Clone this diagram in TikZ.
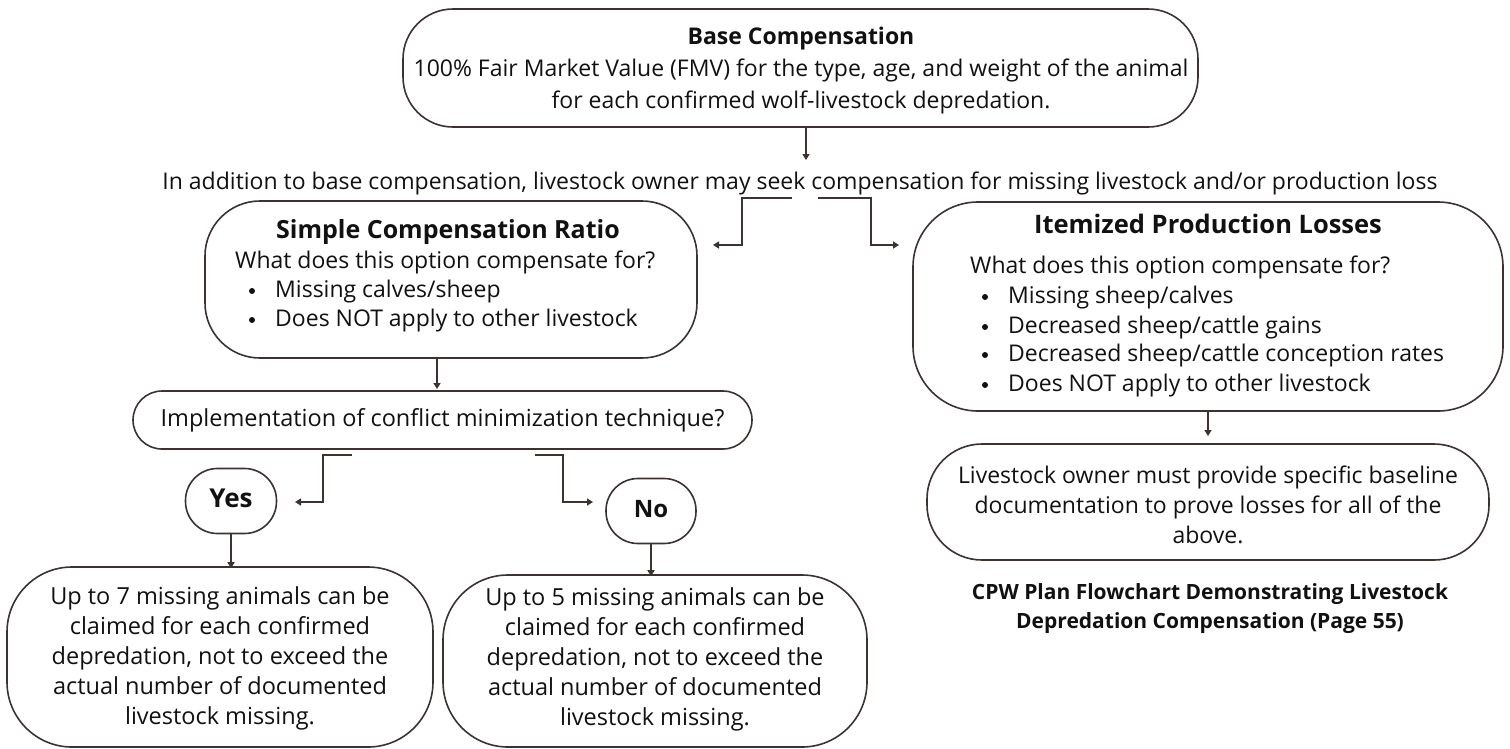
\documentclass[tikz,border=0pt]{standalone}
\usepackage{fontspec}
\setmainfont{Open Sans}
\usetikzlibrary{arrows.meta}
\definecolor{lc}{HTML}{3B3330}
\definecolor{tc}{HTML}{111111}
\begin{document}
\begin{tikzpicture}[x=1pt,y=-1pt,
  box/.style={draw=lc, line width=1.6pt, rounded corners=#1, inner sep=0pt},
  arr/.style={draw=lc, line width=1.6pt, -{Triangle[length=6pt,width=7pt]}},
  txt/.style={text=tc, inner sep=0pt, anchor=mid, yshift=-4pt, font=\fontsize{23}{28}\selectfont},
  ltxt/.style={txt, anchor=mid west},
  dot/.style={circle, fill=tc, inner sep=0pt, minimum size=6pt},
  ttl/.style={txt, font=\bfseries\fontsize{25}{30}\selectfont},
]
\useasboundingbox[fill=white] (0,0) rectangle (1510,748);

% Base compensation
\node[box=50pt, minimum width=795pt, minimum height=118pt] (base) at (800.5,68) {};
\node[ttl, font=\bfseries\fontsize{23}{28}\selectfont] (bt) at (801,38) {Base Compensation};
\node[txt] (b1) at (801,70) {100\% Fair Market Value (FMV) for the type, age, and weight of the animal};
\node[txt] (b2) at (801,102) {for each confirmed wolf-livestock depredation.};

\coordinate (a0) at (806,160);
\draw[arr] (base.south -| a0) -- (a0);

\node[txt] (addl) at (800,182.5) {In addition to base compensation, livestock owner may seek compensation for missing livestock and/or production loss};

% split connectors
\coordinate (sl0) at (792,198);
\coordinate (sl1) at (742,198);
\coordinate (sl2) at (742,245);
\coordinate (sl3) at (713,245);
\coordinate (sr0) at (818,198);
\coordinate (sr1) at (871,198);
\coordinate (sr2) at (871,245);
\coordinate (sr3) at (899,245);
\draw[arr] (sl0) -- (sl1) -- (sl2) -- (sl3);
\draw[arr] (sr0) -- (sr1) -- (sr2) -- (sr3);

% Simple compensation ratio
\node[box=55pt, minimum width=492pt, minimum height=157pt] (simple) at (451,279.5) {};
\node[ttl] (st) at (448,232) {Simple Compensation Ratio};
\node[ltxt] (sq) at (235,262) {What does this option compensate for?};
\node[dot] (sb1d) at (252,291) {};
\node[ltxt] (sb1) at (275,291) {Missing calves/sheep};
\node[dot] (sb2d) at (252,320) {};
\node[ltxt] (sb2) at (275,320) {Does NOT apply to other livestock};

% Implementation
\node[box=29pt, minimum width=619pt, minimum height=58pt] (impl) at (442.5,420) {};
\node[txt, font=\fontsize{23.5}{28}\selectfont] (it) at (442.5,420) {Implementation of conflict minimization technique?};
\coordinate (a1) at (437,389);
\draw[arr] (simple.south -| a1) -- (a1);

% yes / no connectors
\coordinate (yl0) at (352,455);
\coordinate (yl1) at (323,455);
\coordinate (yl2) at (323,502);
\coordinate (yl3) at (295,502);
\coordinate (nr0) at (535,455);
\coordinate (nr1) at (563,455);
\coordinate (nr2) at (563,502);
\coordinate (nr3) at (593,502);
\draw[arr] (yl0) -- (yl1) -- (yl2) -- (yl3);
\draw[arr] (nr0) -- (nr1) -- (nr2) -- (nr3);

\node[box=32pt, minimum width=91pt, minimum height=65pt] (yes) at (231,501) {};
\node[txt, font=\bfseries\fontsize{26}{30}\selectfont] (yt) at (231,501) {Yes};
\node[box=32pt, minimum width=90pt, minimum height=65pt] (no) at (651,511) {};
\node[txt, font=\bfseries\fontsize{24}{28}\selectfont] (nt) at (651,511) {No};

% bottom boxes
\node[box=65pt, minimum width=426pt, minimum height=180pt] (seven) at (220,657) {};
\node[txt, font=\fontsize{23.5}{28}\selectfont] (s1) at (220,598) {Up to 7 missing animals can be};
\node[txt, font=\fontsize{23.5}{28}\selectfont] (s2) at (220,628) {claimed for each confirmed};
\node[txt, font=\fontsize{23.5}{28}\selectfont] (s3) at (220,658) {depredation, not to exceed the};
\node[txt, font=\fontsize{23.5}{28}\selectfont] (s4) at (220,688) {actual number of documented};
\node[txt, font=\fontsize{23.5}{28}\selectfont] (s5) at (220,718) {livestock missing.};

\node[box=65pt, minimum width=424pt, minimum height=172pt] (five) at (655,661) {};
\node[txt, font=\fontsize{23.5}{28}\selectfont] (f1) at (655,599) {Up to 5 missing animals can be};
\node[txt, font=\fontsize{23.5}{28}\selectfont] (f2) at (655,629) {claimed for each confirmed};
\node[txt, font=\fontsize{23.5}{28}\selectfont] (f3) at (655,659) {depredation, not to exceed the};
\node[txt, font=\fontsize{23.5}{28}\selectfont] (f4) at (655,689) {actual number of documented};
\node[txt, font=\fontsize{23.5}{28}\selectfont] (f5) at (655,719) {livestock missing.};

\draw[arr] (yes.south) -- ([yshift=-2pt]seven.north -| yes.south);
\draw[arr] (no.south) -- ([yshift=-2pt]five.north -| no.south);

% Itemized
\node[box=65pt, minimum width=590pt, minimum height=209pt] (item) at (1208,306.5) {};
\node[ttl, font=\bfseries\fontsize{25.5}{30}\selectfont] (itt) at (1208,227) {Itemized Production Losses};
\node[ltxt] (iq) at (970,267) {What does this option compensate for?};
\node[dot] (ib1d) at (985,297) {};
\node[ltxt] (ib1) at (1008,297) {Missing sheep/calves};
\node[dot] (ib2d) at (985,327) {};
\node[ltxt] (ib2) at (1008,327) {Decreased sheep/cattle gains};
\node[dot] (ib3d) at (985,355) {};
\node[ltxt] (ib3) at (1008,355) {Decreased sheep/cattle conception rates};
\node[dot] (ib4d) at (985,385) {};
\node[ltxt] (ib4) at (1008,385) {Does NOT apply to other livestock};

% Livestock owner
\node[box=55pt, minimum width=562pt, minimum height=116pt] (owner) at (1208,502) {};
\node[txt] (o1) at (1208,477) {Livestock owner must provide specific baseline};
\node[txt] (o2) at (1208,507) {documentation to prove losses for all of the};
\node[txt] (o3) at (1208,537) {above.};
\coordinate (a2) at (1208,436);
\draw[arr] (item.south -| a2) -- (a2);

% caption
\node[txt, font=\bfseries\fontsize{21}{26}\selectfont] (c1) at (1210,593) {CPW Plan Flowchart Demonstrating Livestock};
\node[txt, font=\bfseries\fontsize{21}{26}\selectfont] (c2) at (1210,622) {Depredation Compensation (Page 55)};
\end{tikzpicture}
\end{document}
